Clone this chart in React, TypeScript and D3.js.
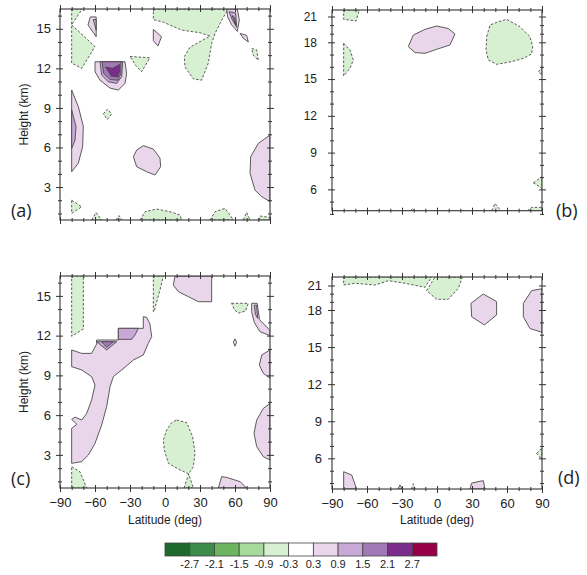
import React, { useEffect, useRef } from "react";
import * as d3 from "d3";

type Pt = [number, number];
type Region = [number, Pt[]]; // [contour level index (-1 = -0.9..-0.3, 1 = 0.3..0.9, ...), [lat, km] vertices]

const LEVELS = [-2.7, -2.1, -1.5, -0.9, -0.3, 0.3, 0.9, 1.5, 2.1, 2.7];
const COLORS = ["#1d6a2c", "#3d8b4b", "#6cb45f", "#a6d99c", "#d8f0d2", "#ffffff", "#ead6eb", "#c8a8d7", "#a279b7", "#7a2d8b", "#970047"];

const LAT_TICKS = [-90, -60, -30, 0, 30, 60, 90];
const LAT_MINOR = [-80, -70, -50, -40, -20, -10, 10, 20, 40, 50, 70, 80];
const H_TICKS_AC = [3, 6, 9, 12, 15];
const H_MINOR_AC = [1, 2, 4, 5, 7, 8, 10, 11, 13, 14, 16];
const H_TICKS_BD = [6, 9, 12, 15, 18, 21];
const H_MINOR_BD = [4, 5, 7, 8, 10, 11, 13, 14, 16, 17, 19, 20];

const REGIONS_A: Region[] = [
  [-1, [[-80, 16.5], [-71, 16.5], [-80, 15.3]]],
  [-1, [[-80, 15.3], [-60, 13.65], [-71.4, 12.0], [-80, 12.4]]],
  [1, [[-64, 15.9], [-59, 15.9], [-59, 14.4], [-66, 15.3]]],
  [2, [[-61.5, 15.7], [-59, 15.7], [-59, 14.9]]],
  [1, [[-10, 14.95], [-3, 14.4], [-6, 13.7], [-10, 14.1]]],
  [-1, [[-30, 12.9], [-13, 12.8], [-20, 11.75], [-25, 12.2]]],
  [1, [[-60, 12.5], [-60, 11.75], [-55.7, 11.1], [-47, 10.5], [-40, 10.35], [-34.3, 10.86], [-32.9, 11.6], [-34.3, 12.5]]],
  [2, [[-55.7, 12.5], [-54.3, 11.49], [-48.6, 10.99], [-41.4, 10.86], [-37.1, 11.37], [-36.3, 12.5]]],
  [3, [[-54, 12.5], [-52.5, 11.6], [-47, 11.15], [-40.5, 11.1], [-37.8, 11.6], [-37.8, 12.5]]],
  [4, [[-51, 12.1], [-46, 11.4], [-40.5, 11.35], [-38.8, 11.8], [-38.8, 12.3], [-45, 12.0]]],
  [1, [[-80, 10.36], [-74.3, 9.1], [-70, 7.6], [-70.6, 6.06], [-74.3, 4.8], [-80, 4.16]]],
  [2, [[-80, 8.84], [-76.3, 7.6], [-77.1, 6.56], [-80, 5.93]]],
  [-1, [[-52.9, 8.54], [-49.4, 8.9], [-45.7, 8.54], [-49.4, 8.13]]],
  [1, [[-27.1, 5.3], [-24.3, 5.8], [-18.6, 6.14], [-10, 5.88], [-4.3, 5.2], [-3.7, 4.54], [-8.6, 3.91], [-15.7, 4.16], [-24.3, 4.54]]],
  [1, [[90, 6.94], [80, 6.31], [73.4, 5.3], [72.9, 4.04], [77.1, 2.77], [82.9, 2.27], [90, 1.89]]],
  [-1, [[-10, 16.5], [54.3, 16.5], [48.6, 15.66], [42.9, 14.65], [40, 13.9], [37.1, 12.4], [31.4, 11.1], [24.3, 11.2], [17.1, 12.1], [16.6, 12.9], [21.4, 13.6], [38.6, 14.45], [30, 14.7], [14.3, 14.9], [-1.4, 15.5], [-10, 15.7]]],
  [1, [[52.9, 16.5], [62, 16.5], [63.7, 15.66], [62, 14.8], [57.1, 15.3], [53.7, 15.9]]],
  [2, [[55, 16.3], [60.5, 16.2], [61.5, 15.1], [57.5, 15.7]]],
  [3, [[57.5, 16.0], [60, 15.8], [60.5, 15.3]]],
  [1, [[64.3, 14.65], [70, 14.5], [71.4, 14.0], [67, 14.3]]],
  [-1, [[74.3, 13.5], [78.6, 13.4], [80, 12.6], [75.7, 13.0]]],
  [-1, [[-80, 2.0], [-71.4, 1.5], [-80, 1.0]]],
  [-1, [[-62.9, 0.5], [-59.1, 1.06], [-54.3, 0.5]]],
  [-1, [[-42, 0.5], [-39.4, 0.83], [-36.9, 0.5]]],
  [-1, [[-21.4, 0.5], [-17.1, 1.13], [-7.1, 1.33], [4.3, 1.13], [12.9, 0.88], [14.3, 0.5]]],
  [-1, [[38.6, 0.5], [42.9, 1.13], [51.4, 1.38], [55.7, 0.88], [58.6, 0.5]]],
  [-1, [[67.1, 0.5], [70, 1.08], [72.9, 0.5]]],
  [-1, [[80, 0.5], [81.4, 0.8], [90, 0.7], [90, 0.5]]],
];

const REGIONS_B: Region[] = [
  [-1, [[-80, 21.75], [-66.6, 21.75], [-69.4, 20.48], [-80, 20.67]]],
  [-1, [[-80, 17.92], [-74.6, 17.37], [-71.7, 16.56], [-74.6, 15.88], [-80, 15.25]]],
  [1, [[-24.6, 17.65], [-20.3, 18.85], [-10.3, 19.5], [-0.3, 19.9], [9.7, 19.6], [15.4, 18.97], [11.1, 17.78], [-0.3, 17.43], [-10.3, 17.1], [-18.9, 17.16]]],
  [-1, [[42.6, 18.66], [45.4, 20.01], [52.6, 20.4], [59.7, 20.67], [71.1, 19.82], [79.7, 18.66], [82, 17.65], [81.1, 17.05], [74, 16.69], [64, 16.42], [51.1, 16.2], [44, 16.56], [42, 17.37]]],
  [-1, [[86.9, 15.6], [90, 15.9], [90, 15.33]]],
  [-1, [[82.6, 6.54], [90, 7.03], [90, 6.08]]],
  [-1, [[-22.6, 4.26], [-20.9, 4.45], [-19.1, 4.26]]],
  [-1, [[46.9, 4.26], [49.7, 4.86], [54.6, 4.26]]],
  [-1, [[77.4, 4.26], [81.1, 4.53], [90, 4.53], [90, 4.26]]],
];

const REGIONS_C: Region[] = [
  [-1, [[-80, 16.5], [-70, 16.5], [-70, 12.5], [-80, 11.95]]],
  [-1, [[-10, 16.5], [-1.4, 16.5], [-4.3, 15.44], [-7.1, 14.56], [-9.4, 13.8], [-10, 13.8]]],
  [1, [[8.6, 16.5], [40, 16.5], [40, 14.56], [28.6, 14.56], [20, 14.94], [11.4, 15.32], [7.1, 15.82]]],
  [-1, [[57.1, 14.44], [71.4, 14.44], [69, 13.85], [62.9, 13.7], [59.5, 13.95]]],
  [1, [[74.3, 14.44], [79, 14.44], [81, 13.2], [90, 12.4], [90, 12.0], [81.4, 12.3], [76.5, 13.0], [74.3, 13.8]]],
  [2, [[76.5, 14.3], [78.5, 14.3], [79.5, 13.3], [77.5, 13.6]]],
  [1, [[-80, 10.92], [-71.4, 10.66], [-62.9, 10.66], [-58.6, 11.37], [-58.6, 11.67], [-40, 11.67], [-40, 12.55], [-18.6, 12.55], [-18.6, 13.43], [-15.7, 13.38], [-12.9, 12.88], [-11.4, 11.92], [-14.3, 11.42], [-18.6, 10.54], [-27.1, 10.16], [-37.1, 9.41], [-44.3, 8.9], [-47.1, 8.15], [-50, 6.64], [-54.3, 5.25], [-60, 3.87], [-65.7, 2.99], [-71.4, 2.49], [-80, 2.36], [-80, 5.0], [-75.5, 5.3], [-80, 5.68], [-77.1, 5.85], [-71.4, 5.63], [-67.1, 6.14], [-62.9, 7.14], [-60, 8.27], [-62.9, 8.9], [-71.4, 9.41], [-80, 9.66]]],
  [2, [[-40, 12.55], [-22.9, 12.55], [-25.7, 12.05], [-28.6, 11.72], [-40, 11.72]]],
  [2, [[-58.6, 11.54], [-41.4, 11.54], [-50, 10.92]]],
  [3, [[-54.3, 11.54], [-44.3, 11.54], [-50, 11.12]]],
  [1, [[58.6, 11.5], [60, 11.75], [61.4, 11.5], [60, 11.2]]],
  [1, [[90, 10.92], [82.9, 10.54], [80.9, 9.78], [84.3, 9.15], [90, 8.78]]],
  [1, [[90, 6.89], [84.3, 6.51], [78.6, 5.63], [76.3, 4.63], [78.6, 3.62], [84.3, 2.86], [90, 2.61]]],
  [-1, [[10, 5.63], [18.6, 5.43], [23.7, 4.37], [25.7, 3.12], [24.3, 2.11], [20.3, 1.56], [12.9, 1.86], [2.9, 2.36], [-0.6, 3.37], [-1.4, 4.12], [1.4, 4.88], [5.7, 5.43]]],
  [-1, [[16.3, 0.5], [20.3, 1.56], [24.3, 0.5]]],
  [-1, [[-80, 2.11], [-72.9, 1.73], [-67.1, 0.5], [-80, 0.5]]],
  [1, [[45.7, 0.5], [48.6, 1.36], [52.9, 1.3], [64.3, 0.98], [70, 0.5]]],
];

const REGIONS_D: Region[] = [
  [-1, [[-80, 22.04], [-4.6, 22.04], [-10.3, 20.78], [-27.4, 21.27], [-41.7, 21.59], [-53.1, 21.06], [-70.3, 21.27], [-80, 21.06]]],
  [-1, [[-8.9, 20.37], [-1.7, 22.04], [21.7, 22.04], [18.3, 20.65], [9.7, 19.31], [-0.3, 19.31]]],
  [1, [[39.7, 19.96], [51.1, 19.02], [51.1, 17.6], [40.6, 16.79], [29.7, 17.46], [29.1, 18.82]]],
  [1, [[90, 20.6], [81.1, 20.37], [74, 18.82], [74, 17.46], [79.7, 16.5], [90, 16.2]]],
  [-1, [[85.4, 6.4], [90, 6.85], [90, 5.9]]],
  [1, [[-80, 4.92], [-73.1, 4.65], [-68.9, 3.52], [-80, 3.52]]],
  [1, [[-33.5, 3.52], [-31.7, 3.85], [-29.9, 3.52]]],
  [-1, [[-22, 3.52], [-20.3, 3.95], [-18.6, 3.52]]],
  [1, [[28.3, 3.52], [29.7, 4.0], [39.7, 4.2], [41.1, 3.52]]],
];

const PANELS = [
  { id: "a", regions: REGIONS_A, x0: 60, x1: 270, hDom: [0.5, 16.5], yRng: [220, 9], hTicks: H_TICKS_AC, hMinor: H_MINOR_AC, pad: 5, fs: 13, xLabels: false, yTitle: true, tag: "(a)", tagX: 11, tagY: 217 },
  { id: "b", regions: REGIONS_B, x0: 332, x1: 542, hDom: [4.26, 18, 21, 21.75], yRng: [210.7, 42.3, 16.5, 10], hTicks: H_TICKS_BD, hMinor: H_MINOR_BD, pad: 11, fs: 12, xLabels: false, yTitle: false, tag: "(b)", tagX: 556, tagY: 217 },
  { id: "c", regions: REGIONS_C, x0: 60, x1: 270, hDom: [0.5, 16.5], yRng: [488, 276], hTicks: H_TICKS_AC, hMinor: H_MINOR_AC, pad: 5, fs: 13, xLabels: true, yTitle: true, tag: "(c)", tagX: 11, tagY: 485 },
  { id: "d", regions: REGIONS_D, x0: 332, x1: 542, hDom: [3.52, 18, 21, 22.04], yRng: [489, 310, 285.5, 277], hTicks: H_TICKS_BD, hMinor: H_MINOR_BD, pad: 6, fs: 13, xLabels: true, yTitle: false, tag: "(d)", tagX: 558, tagY: 484 },
];

const FONT = "'Liberation Sans', Arial, sans-serif";

function colorOf(level: number) {
  return COLORS[5 + level];
}

export default function App() {
  const ref = useRef<SVGSVGElement>(null);

  useEffect(() => {
    const svg = d3.select(ref.current);
    svg.selectAll("*").remove();
    const defs = svg.append("defs");

    PANELS.forEach((p) => {
      const x = d3.scaleLinear().domain([-90, 90]).range([p.x0, p.x1]);
      const y = d3.scaleLinear().domain(p.hDom).range(p.yRng);
      const yTop = y(p.hDom[p.hDom.length - 1]);
      const yBot = y(p.hDom[0]);
      const clipId = "clip-" + p.id;
      defs.append("clipPath").attr("id", clipId).append("rect")
        .attr("x", p.x0).attr("y", yTop).attr("width", p.x1 - p.x0).attr("height", yBot - yTop);

      const g = svg.append("g");
      const line = d3.line<Pt>().x((d) => x(d[0])).y((d) => y(d[1])).curve(d3.curveLinearClosed);
      const regs = [...p.regions].sort((a, b) => Math.abs(a[0]) - Math.abs(b[0]));
      g.append("g").attr("clip-path", `url(#${clipId})`)
        .selectAll("path").data(regs).join("path")
        .attr("d", (d) => line(d[1]))
        .attr("fill", (d) => colorOf(d[0]))
        .attr("stroke", "#4a4a4a")
        .attr("stroke-width", 0.9)
        .attr("stroke-linejoin", "round")
        .attr("stroke-dasharray", (d) => (d[0] < 0 ? "2.5,1.8" : null));

      // frame
      g.append("rect").attr("x", p.x0).attr("y", yTop).attr("width", p.x1 - p.x0).attr("height", yBot - yTop)
        .attr("fill", "none").attr("stroke", "#333").attr("stroke-width", 1.1);

      const styleAxis = (sel: any, inner: number, horizontal: boolean, sign: number) => {
        sel.select(".domain").remove();
        sel.selectAll(".tick line").attr("stroke", "#333").attr("stroke-width", 1)
          .attr(horizontal ? "y1" : "x1", sign * inner);
        sel.selectAll("text").attr("font-family", FONT).attr("font-size", p.fs).attr("fill", "#222");
      };

      // left
      const gl = g.append("g").attr("transform", `translate(${p.x0},0)`)
        .call(d3.axisLeft(y).tickValues(p.hTicks).tickSize(4).tickPadding(p.pad).tickFormat(d3.format("d")) as any);
      styleAxis(gl, 3, false, 1);
      const glm = g.append("g").attr("transform", `translate(${p.x0},0)`)
        .call(d3.axisLeft(y).tickValues(p.hMinor).tickSize(2).tickFormat(() => "") as any);
      styleAxis(glm, 2, false, 1);
      // right
      const gr = g.append("g").attr("transform", `translate(${p.x1},0)`)
        .call(d3.axisRight(y).tickValues(p.hTicks).tickSize(4).tickFormat(() => "") as any);
      styleAxis(gr, 3, false, -1);
      const grm = g.append("g").attr("transform", `translate(${p.x1},0)`)
        .call(d3.axisRight(y).tickValues(p.hMinor).tickSize(2).tickFormat(() => "") as any);
      styleAxis(grm, 2, false, -1);
      // top
      const gt = g.append("g").attr("transform", `translate(0,${yTop})`)
        .call(d3.axisTop(x).tickValues(LAT_TICKS).tickSize(4).tickFormat(() => "") as any);
      styleAxis(gt, 3, true, 1);
      const gtm = g.append("g").attr("transform", `translate(0,${yTop})`)
        .call(d3.axisTop(x).tickValues(LAT_MINOR).tickSize(2).tickFormat(() => "") as any);
      styleAxis(gtm, 2, true, 1);
      // bottom
      const gb = g.append("g").attr("transform", `translate(0,${yBot})`)
        .call(d3.axisBottom(x).tickValues(LAT_TICKS).tickSize(4).tickPadding(6)
          .tickFormat(p.xLabels ? (d3.format("d") as any) : () => "") as any);
      styleAxis(gb, 3, true, -1);
      const gbm = g.append("g").attr("transform", `translate(0,${yBot})`)
        .call(d3.axisBottom(x).tickValues(LAT_MINOR).tickSize(2).tickFormat(() => "") as any);
      styleAxis(gbm, 2, true, -1);

      if (p.xLabels) {
        g.append("text").attr("x", (p.x0 + p.x1) / 2).attr("y", 524)
          .attr("text-anchor", "middle").attr("font-family", FONT).attr("font-size", 12).attr("fill", "#222")
          .text("Latitude (deg)");
      }
      if (p.yTitle) {
        const cy = (yTop + yBot) / 2;
        g.append("text").attr("transform", `translate(28,${cy}) rotate(-90)`)
          .attr("text-anchor", "middle").attr("font-family", FONT).attr("font-size", 12).attr("fill", "#222")
          .text("Height (km)");
      }
      g.append("text").attr("x", p.tagX).attr("y", p.tagY)
        .attr("font-family", "'Open Sans', 'DejaVu Sans', sans-serif").attr("font-size", 18).attr("fill", "#222")
        .text(p.tag);
    });

    // color bar
    const cb = d3.scaleBand<number>().domain(d3.range(COLORS.length)).range([165, 437]).paddingInner(0);
    const cbg = svg.append("g");
    cbg.selectAll("rect").data(COLORS).join("rect")
      .attr("x", (_, i) => cb(i)!).attr("y", 543).attr("width", cb.bandwidth()).attr("height", 13)
      .attr("fill", (d) => d).attr("stroke", "#444").attr("stroke-width", 0.8);
    cbg.selectAll("text").data(LEVELS).join("text")
      .attr("x", (_, i) => cb(i)! + cb.bandwidth())
      .attr("y", 568).attr("text-anchor", "middle")
      .attr("font-family", FONT).attr("font-size", 11).attr("fill", "#222")
      .text((d) => d.toFixed(1));
  }, []);

  return (
    <svg ref={ref} width={587} height={575} style={{ display: "block", position: "absolute", left: 0, top: 0, background: "#fff" }} />
  );
}
